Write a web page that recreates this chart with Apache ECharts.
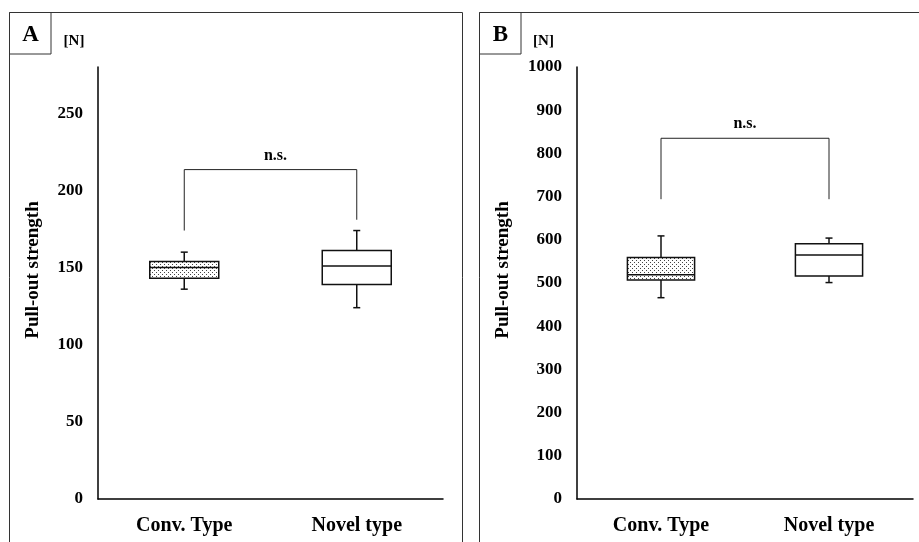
<!DOCTYPE html>
<html>
<head>
<meta charset="utf-8">
<script src="https://cdn.jsdelivr.net/npm/echarts@6/dist/echarts.min.js"></script>
<style>
html,body{margin:0;padding:0;background:#fff;}
#chart{width:919px;height:542px;}
</style>
</head>
<body>
<div id="chart"></div>
<script>
// ---- data ----
const categories = ['Conv. Type', 'Novel type'];
// [min, q1, median, q3, max]
const boxA = [[136, 143, 150, 154, 160], [124, 139, 151, 161, 174]];
const boxB = [[466, 507, 519, 559, 609], [501, 516, 565, 591, 604]];
// bracket: [left foot, top, right foot]
const bracketA = [174, 213.5, 181];
const bracketB = [694, 835, 694];
const bracketLabel = 'n.s.';
const yAxisA = { min: 0, max: 280, interval: 50 };
const yAxisB = { min: 0, max: 1000, interval: 100 };
const yName = 'Pull-out strength';
const unitLabel = '[N]';
const panelLabels = ['A', 'B'];

// ---- styles ----
const FONT = "'Liberation Serif', 'Times New Roman', serif";
const pc = document.createElement('canvas');
pc.width = 4; pc.height = 4;
const pctx = pc.getContext('2d');
pctx.fillStyle = '#fff'; pctx.fillRect(0, 0, 4, 4);
pctx.fillStyle = '#444'; pctx.fillRect(0, 0, 1, 1); pctx.fillRect(2, 2, 1, 1);
const dotPattern = { image: pc, repeat: 'repeat' };

function renderBox(params, api) {
  const x = api.value(0);
  const vals = [api.value(1), api.value(2), api.value(3), api.value(4), api.value(5)];
  const pts = vals.map(v => api.coord([x, v]));
  const cx = pts[0][0];
  const band = api.size([1, 0])[0];
  const w = band * 0.4;
  const cap = 3.5;
  const yLo = pts[0][1], yQ1 = pts[1][1], yMed = pts[2][1], yQ3 = pts[3][1], yHi = pts[4][1];
  const ls = { stroke: '#111', lineWidth: 1.5 };
  return {
    type: 'group',
    children: [
      { type: 'line', shape: { x1: cx, y1: yQ3, x2: cx, y2: yHi }, style: ls },
      { type: 'line', shape: { x1: cx - cap, y1: yHi, x2: cx + cap, y2: yHi }, style: ls },
      { type: 'line', shape: { x1: cx, y1: yQ1, x2: cx, y2: yLo }, style: ls },
      { type: 'line', shape: { x1: cx - cap, y1: yLo, x2: cx + cap, y2: yLo }, style: ls },
      { type: 'rect', shape: { x: cx - w / 2, y: yQ3, width: w, height: yQ1 - yQ3 },
        style: { fill: params.dataIndex === 0 ? dotPattern : '#fff', stroke: '#111', lineWidth: 1.5 } },
      { type: 'line', shape: { x1: cx - w / 2, y1: yMed, x2: cx + w / 2, y2: yMed }, style: ls }
    ]
  };
}

function makeBracketRenderer(textShift) {
  return function (params, api) {
    const p1 = api.coord([0, api.value(0)]);
    const p2 = api.coord([0, api.value(1)]);
    const p3 = api.coord([1, api.value(1)]);
    const p4 = api.coord([1, api.value(2)]);
    return {
      type: 'group',
      children: [
        { type: 'polyline', shape: { points: [p1, p2, p3, p4] }, style: { stroke: '#222', lineWidth: 1, fill: null } },
        { type: 'text', style: { text: bracketLabel, x: (p2[0] + p3[0]) / 2 + textShift, y: p2[1] - 14,
          align: 'center', verticalAlign: 'middle', font: 'bold 16px ' + FONT, fill: '#000' } }
      ]
    };
  };
}

function yAxisCfg(gi, cfg, gap) {
  return {
    type: 'value', gridIndex: gi, min: cfg.min, max: cfg.max, interval: cfg.interval,
    name: yName, nameLocation: 'middle', nameRotate: 90, nameGap: gap,
    nameTextStyle: { fontFamily: FONT, fontWeight: 'bold', fontSize: 19, color: '#000', padding: [0, 0, 0, 26] },
    axisLine: { show: true, lineStyle: { color: '#000', width: 1.5 } },
    axisTick: { show: false },
    splitLine: { show: false },
    axisLabel: {
      fontFamily: FONT, fontWeight: 'bold', fontSize: 17, color: '#000', margin: 15,
      showMaxLabel: cfg.max % cfg.interval === 0,
      formatter: v => (v % cfg.interval === 0 ? String(v) : '')
    }
  };
}
function xAxisCfg(gi) {
  return {
    type: 'category', gridIndex: gi, data: categories, boundaryGap: true,
    axisLine: { show: true, lineStyle: { color: '#000', width: 1.5 } },
    axisTick: { show: false },
    axisLabel: { fontFamily: FONT, fontWeight: 'bold', fontSize: 20, color: '#000', margin: 17 }
  };
}

const chart = echarts.init(document.getElementById('chart'));
chart.setOption({
  backgroundColor: '#fff',
  animation: false,
  grid: [
    { left: 98, top: 67, width: 345, height: 432, outerBoundsMode: 'none' },
    { left: 577, top: 67, width: 336, height: 432, outerBoundsMode: 'none' }
  ],
  xAxis: [xAxisCfg(0), xAxisCfg(1)],
  yAxis: [yAxisCfg(0, yAxisA, 55), yAxisCfg(1, yAxisB, 64)],
  graphic: [
    { type: 'rect', shape: { x: 9.5, y: 12.5, width: 453, height: 560 }, style: { fill: null, stroke: '#333', lineWidth: 1 }, silent: true },
    { type: 'rect', shape: { x: 479.5, y: 12.5, width: 460, height: 560 }, style: { fill: null, stroke: '#333', lineWidth: 1 }, silent: true },
    { type: 'rect', shape: { x: 9.5, y: 12.5, width: 41.5, height: 41.5 }, style: { fill: '#fff', stroke: '#333', lineWidth: 1 }, silent: true },
    { type: 'rect', shape: { x: 479.5, y: 12.5, width: 41.5, height: 41.5 }, style: { fill: '#fff', stroke: '#333', lineWidth: 1 }, silent: true },
    { type: 'text', style: { text: panelLabels[0], x: 30.5, y: 35, align: 'center', verticalAlign: 'middle', font: 'bold 23px ' + FONT, fill: '#000' } },
    { type: 'text', style: { text: panelLabels[1], x: 500.5, y: 35, align: 'center', verticalAlign: 'middle', font: 'bold 23px ' + FONT, fill: '#000' } },
    { type: 'text', style: { text: unitLabel, x: 74, y: 41, align: 'center', verticalAlign: 'middle', font: 'bold 15px ' + FONT, fill: '#000' } },
    { type: 'text', style: { text: unitLabel, x: 543.5, y: 41, align: 'center', verticalAlign: 'middle', font: 'bold 15px ' + FONT, fill: '#000' } }
  ],
  series: [
    { type: 'custom', xAxisIndex: 0, yAxisIndex: 0, renderItem: renderBox,
      encode: { x: 0, y: [1, 2, 3, 4, 5] },
      data: boxA.map((b, i) => [i].concat(b)) },
    { type: 'custom', xAxisIndex: 1, yAxisIndex: 1, renderItem: renderBox,
      encode: { x: 0, y: [1, 2, 3, 4, 5] },
      data: boxB.map((b, i) => [i].concat(b)) },
    { type: 'custom', xAxisIndex: 0, yAxisIndex: 0, renderItem: makeBracketRenderer(5),
      encode: { y: [0, 1, 2] }, data: [bracketA] },
    { type: 'custom', xAxisIndex: 1, yAxisIndex: 1, renderItem: makeBracketRenderer(0),
      encode: { y: [0, 1, 2] }, data: [bracketB] }
  ]
});
</script>
</body>
</html>
